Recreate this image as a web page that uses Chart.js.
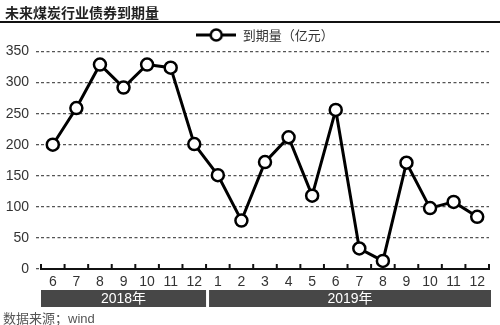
<!DOCTYPE html>
<html>
<head>
<meta charset="utf-8">
<script src="https://cdn.jsdelivr.net/npm/chart.js@4/dist/chart.umd.min.js"></script>
<style>
body { margin: 0; width: 500px; height: 325px; overflow: hidden; background: #fff; position: relative; }
#title { position: absolute; left: 0; top: 0; width: 500px; height: 23px; border-bottom: 2px solid #111;
  font: bold 14px "Noto Sans CJK SC", sans-serif; line-height: 24px; color: #222; padding-left: 5px; box-sizing: border-box; }
#source { position: absolute; left: 3px; top: 308px; font: 13px "Liberation Sans", "Noto Sans CJK SC", sans-serif; color: #555; }
#chart { position: absolute; left: 0; top: 0; }
</style>
</head>
<body>
<canvas id="chart" width="500" height="325"></canvas>
<div id="title">未来煤炭行业债券到期量</div>
<div id="source">数据来源；wind</div>
<script>
const months = ['6', '7', '8', '9', '10', '11', '12', '1', '2', '3', '4', '5', '6', '7', '8', '9', '10', '11', '12'];
const maturity = [200, 259, 329, 292, 329, 324, 201, 151, 78, 172, 212, 118, 256, 33, 13, 171, 98, 108, 84];
const years = ['2018年', '2019年'];
const monthsPerYear = [7, 12];
const seriesName = '到期量（亿元）';

// legend icon: line with hollow circle
function legendIcon() {
    const c = document.createElement('canvas');
    c.width = 40; c.height = 14;
    const g = c.getContext('2d');
    g.strokeStyle = '#000';
    g.lineWidth = 3;
    g.beginPath(); g.moveTo(0, 7); g.lineTo(40, 7); g.stroke();
    g.fillStyle = '#fff';
    g.lineWidth = 2.5;
    g.beginPath(); g.arc(20, 7, 5.5, 0, Math.PI * 2); g.fill(); g.stroke();
    return c;
}

// small tick marks pointing up from the x axis, and the year bars below the labels
const axisExtras = {
    id: 'axisExtras',
    beforeDatasetsDraw(chart) {
        const ctx = chart.ctx;
        const xs = chart.scales.x;
        const n = months.length;
        ctx.save();
        ctx.strokeStyle = '#111';
        ctx.lineWidth = 2;
        for (let i = 0; i <= n; i++) {
            let x;
            if (i === 0) x = xs.left;
            else if (i === n) x = xs.right;
            else x = (xs.getPixelForValue(i - 1) + xs.getPixelForValue(i)) / 2;
            ctx.beginPath();
            ctx.moveTo(x, xs.top);
            ctx.lineTo(x, xs.top - 5);
            ctx.stroke();
        }
        ctx.restore();
    },
    afterDraw(chart) {
        const ctx = chart.ctx;
        const xs = chart.scales.x;
        const half = (xs.getPixelForValue(1) - xs.getPixelForValue(0)) / 2;
        let start = 0;
        ctx.save();
        years.forEach((y, k) => {
            const end = start + monthsPerYear[k] - 1;
            const left = xs.getPixelForValue(start) - half + (k > 0 ? 3 : 0);
            const right = xs.getPixelForValue(end) + half + (k === years.length - 1 ? 2 : 0);
            ctx.fillStyle = '#474747';
            ctx.fillRect(left, 290, right - left, 17);
            ctx.fillStyle = '#fff';
            ctx.font = '14px "Liberation Sans", "Noto Sans CJK SC", sans-serif';
            ctx.textAlign = 'center';
            ctx.textBaseline = 'middle';
            ctx.fillText(y, (left + right) / 2, 299);
            start = end + 1;
        });
        ctx.restore();
    }
};

const ctx = document.getElementById('chart').getContext('2d');
new Chart(ctx, {
    type: 'line',
    data: {
        labels: months,
        datasets: [{
            label: seriesName,
            data: maturity,
            borderColor: '#000',
            borderWidth: 3,
            pointRadius: 6,
            pointBorderWidth: 2.5,
            pointBackgroundColor: '#fff',
            pointBorderColor: '#000',
            tension: 0
        }]
    },
    options: {
        responsive: false,
        animation: false,
        devicePixelRatio: 1,
        layout: { padding: { top: 17, right: 11, bottom: 0, left: 0 } },
        plugins: {
            legend: {
                fullSize: false,
                labels: {
                    usePointStyle: true,
                    pointStyle: legendIcon(),
                    pointStyleWidth: 40,
                    boxHeight: 14,
                    padding: 11.5,
                    color: '#333',
                    font: { size: 13, family: '"Noto Sans CJK SC", sans-serif' }
                }
            },
            tooltip: { enabled: false }
        },
        scales: {
            x: {
                offset: true,
                grid: { display: false, drawTicks: false },
                border: { display: true, color: '#111', width: 2 },
                ticks: { color: '#333', padding: 5, font: { size: 14, family: '"Liberation Sans", sans-serif' }, maxRotation: 0, autoSkip: false },
                afterFit(scale) { scale.height = 56; }
            },
            y: {
                min: 0,
                max: 350,
                ticks: { stepSize: 50, color: '#333', padding: 7, font: { size: 14, family: '"Liberation Sans", sans-serif' } },
                grid: { color: '#555', lineWidth: 1.3, drawTicks: true, tickLength: 5, tickBorderDash: [3, 2.5] },
                border: { display: false, dash: [3, 2.5] },
                afterFit(scale) { scale.width = 41; }
            }
        }
    },
    plugins: [axisExtras]
});
</script>
</body>
</html>
